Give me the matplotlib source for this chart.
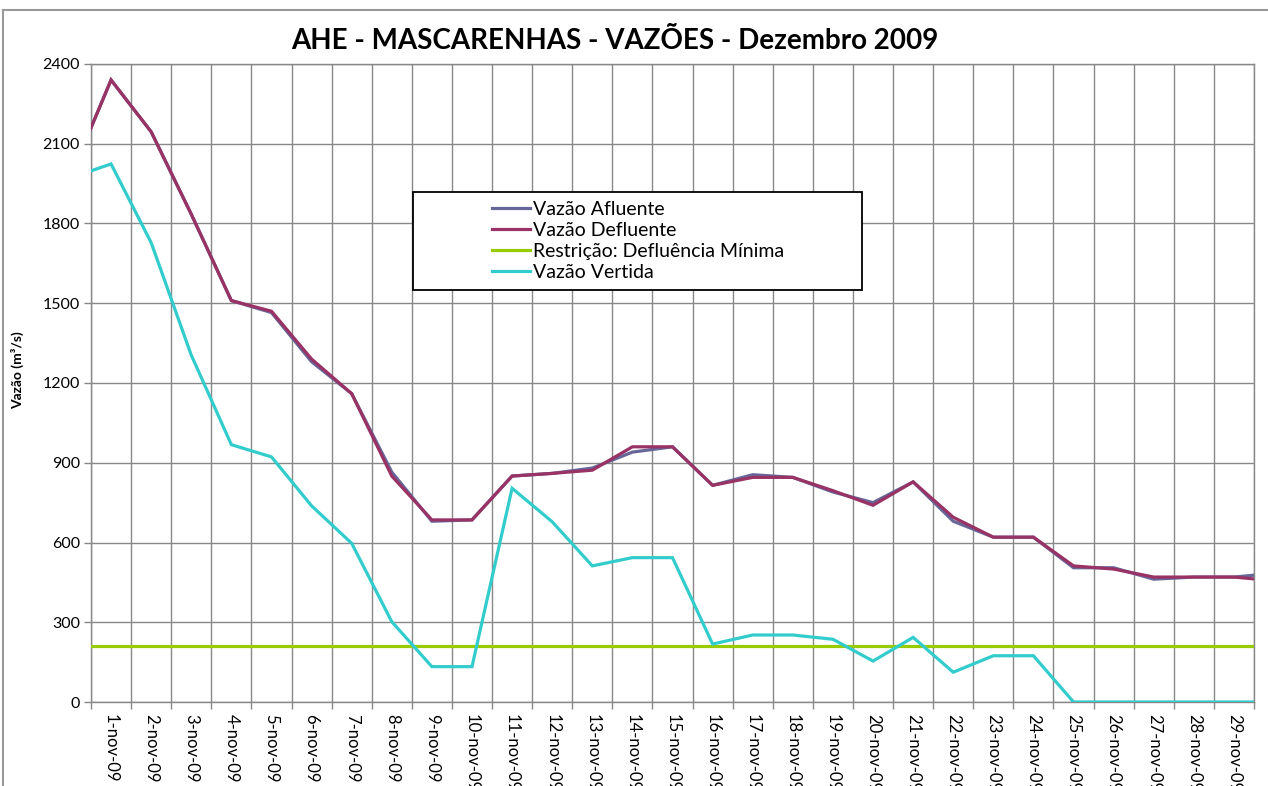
import matplotlib
matplotlib.use("Agg")
import matplotlib.pyplot as plt
from matplotlib.lines import Line2D
from matplotlib.patches import Rectangle
import numpy as np

plt.rcParams['font.family'] = ['Lato', 'DejaVu Sans']

# ---- data ----
title = "AHE - MASCARENHAS - VAZÕES - Dezembro 2009"
ylabel = "Vazão (m³/s)"
day_labels = [f"{d}-nov-09" for d in range(1, 30)]
# series positions 0..30 (first and last values lie just outside the visible range)
positions = list(range(0, 31))
afluente = [1980, 2340, 2145, 1835, 1510, 1465, 1280, 1160, 865, 680, 685,
            850, 860, 880, 940, 960, 815, 855, 845, 790, 750,
            828, 680, 620, 620, 505, 505, 462, 470, 470, 484]
defluente = [1980, 2340, 2145, 1835, 1510, 1470, 1290, 1160, 850, 685, 685,
             850, 860, 872, 960, 960, 815, 845, 845, 795, 740,
             828, 695, 620, 620, 512, 500, 470, 470, 470, 456]
restricao = [210] * 31
vertida = [1972, 2024, 1728, 1305, 968, 922, 738, 597, 302, 133, 133,
           804, 678, 512, 543, 543, 218, 252, 252, 236, 154,
           243, 112, 174, 174, 0, 0, 0, 0, 0, 0]
series_names = ["Vazão Afluente", "Vazão Defluente",
                "Restrição: Defluência Mínima", "Vazão Vertida"]
colors = ["#666699", "#993366", "#99CC00", "#33CCCC"]
yticks = [0, 300, 600, 900, 1200, 1500, 1800, 2100, 2400]

W, H = 1268, 786
fig = plt.figure(figsize=(W / 100, H / 100), dpi=100)
ax = fig.add_axes([91 / W, 1 - 702 / H, (1254 - 91) / W, (702 - 64) / H])

grid_c = "#888888"
lw = 2.3
for vals, c, name in zip([afluente, defluente, restricao, vertida], colors, series_names):
    ax.plot(positions, vals, color=c, lw=lw, label=name, solid_joinstyle='miter', zorder=3)

ax.set_xlim(0.5, 29.5)
ax.set_ylim(0, 2400)
ax.set_yticks(yticks)
ax.set_yticklabels([str(v) for v in yticks], fontsize=11.5)

ax.set_xticks(np.arange(0.5, 30, 1.0))
ax.set_xticklabels([])
ax.set_xticks(np.arange(1, 30), minor=True)
ax.set_xticklabels(day_labels, minor=True, rotation=-90, fontsize=12)
ax.tick_params(axis='x', which='major', direction='out', length=5, color=grid_c, width=1)
ax.tick_params(axis='x', which='minor', length=0, pad=9)
ax.tick_params(axis='y', direction='out', length=5, color=grid_c, width=1, pad=3)

ax.grid(True, which='major', color=grid_c, lw=1, zorder=0)
ax.set_axisbelow(True)
for s in ax.spines.values():
    s.set_color(grid_c)
    s.set_linewidth(1)

# title and axis label
fig.text(615 / W, 1 - 41 / H, title, ha='center', va='center',
         fontsize=20, fontweight='bold')
fig.text(18 / W, 1 - 370 / H, ylabel, ha='center', va='center',
         rotation=90, fontsize=10, fontweight='bold')

# chart border (partly cropped)
fig.add_artist(Line2D([3 / W, 3 / W], [0, 1 - 10 / H], transform=fig.transFigure,
                      color="#999999", lw=1.5))
fig.add_artist(Line2D([3 / W, 1], [1 - 10 / H, 1 - 10 / H], transform=fig.transFigure,
                      color="#999999", lw=1.5))

# legend box
fig.add_artist(Rectangle((413 / W, 1 - 290 / H), (862 - 413) / W, (290 - 192) / H,
                         transform=fig.transFigure, facecolor='white',
                         edgecolor='black', lw=1.3, zorder=4))
leg = fig.legend(loc='upper left', bbox_to_anchor=(492 / W, 1 - 201 / H),
                 frameon=False, fontsize=14, handlelength=1.95,
                 handletextpad=0.15, labelspacing=0.2, borderpad=0,
                 borderaxespad=0)
leg.set_zorder(5)
for h in leg.get_lines():
    h.set_linewidth(2.3)

fig.savefig("out.png", dpi=100)
